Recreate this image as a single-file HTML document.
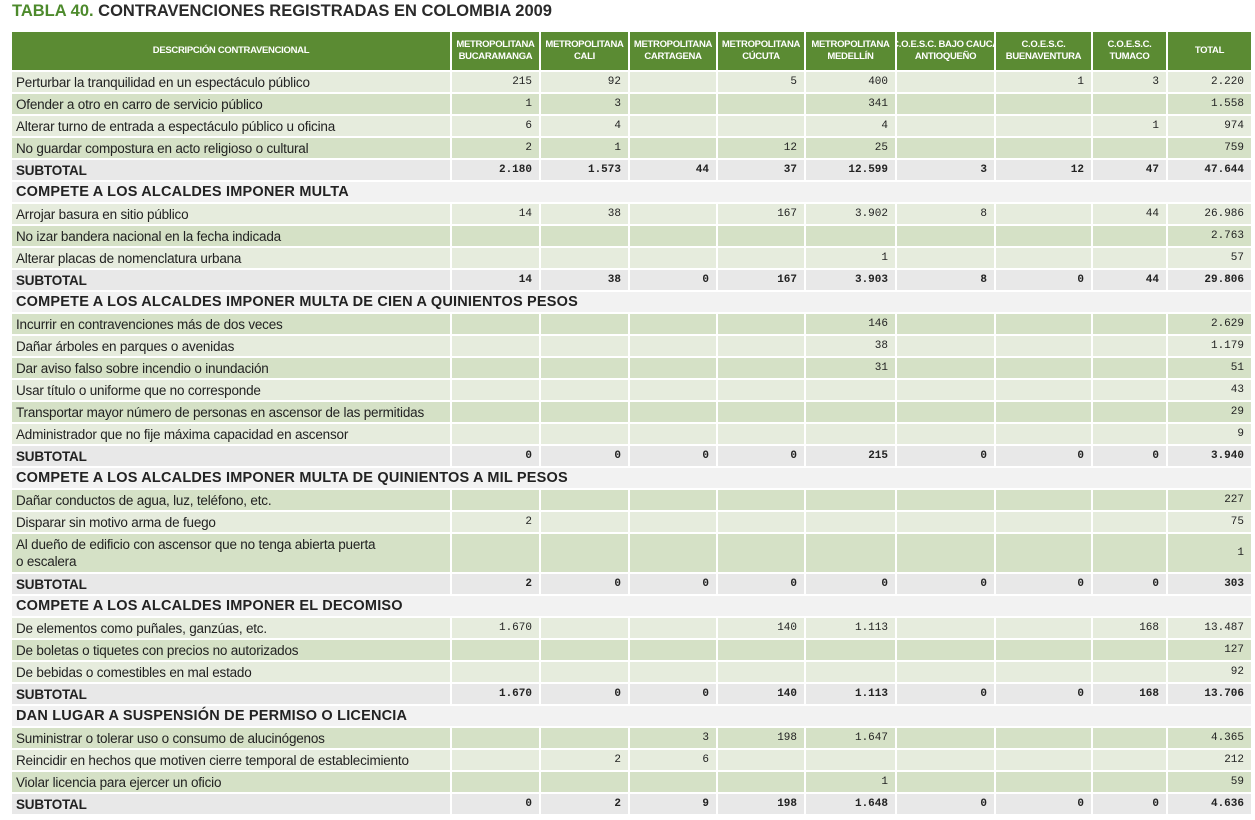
<!DOCTYPE html>
<html><head><meta charset="utf-8">
<style>
body{margin:0;width:1255px;height:820px;background:#fff;position:relative;overflow:hidden;font-family:"Liberation Sans",sans-serif;color:#222}
#title{position:absolute;left:12px;top:2px;font-size:16.5px;font-weight:bold;color:#2a2a2a;white-space:nowrap}
#title span{color:#4d8a2c}
.c{position:absolute;box-sizing:border-box;white-space:nowrap;overflow:hidden}
.h{background:#5b8b33;color:#fff;font-weight:bold;font-size:9.5px;display:flex;align-items:center;justify-content:center;text-align:center;line-height:12px;letter-spacing:-0.3px}
.d{font-size:13.5px;padding-left:4px;display:flex;align-items:center;letter-spacing:-0.2px}
.n{font-family:"Liberation Mono",monospace;font-size:11px;text-align:right;padding-right:7px;display:flex;align-items:center;justify-content:flex-end}
.L{background:#e6ecdd}.D{background:#d5e1c6}
.S{background:#e8e8e8;font-weight:bold}
.sec{background:#f2f2f2;font-weight:bold;font-size:14.5px;padding-left:4px;display:flex;align-items:center;letter-spacing:0.2px}
</style></head><body>
<div id="title"><span>TABLA 40.</span> CONTRAVENCIONES REGISTRADAS EN COLOMBIA 2009</div>
<div id="tbl"></div>
<script>
const colX=[12,452,541,630,718,806,897,996,1093,1168,1253];
const headers=["DESCRIPCIÓN CONTRAVENCIONAL","METROPOLITANA<br>BUCARAMANGA","METROPOLITANA<br>CALI","METROPOLITANA<br>CARTAGENA","METROPOLITANA<br>CÚCUTA","METROPOLITANA<br>MEDELLÍN","C.O.E.S.C. BAJO CAUCA<br>ANTIOQUEÑO","C.O.E.S.C.<br>BUENAVENTURA","C.O.E.S.C.<br>TUMACO","TOTAL"];
const rows=[
["r","Perturbar la tranquilidad en un espectáculo público",["215","92","","5","400","","1","3","2.220"]],
["r","Ofender a otro en carro de servicio público",["1","3","","","341","","","","1.558"]],
["r","Alterar turno de entrada a espectáculo público u oficina",["6","4","","","4","","","1","974"]],
["r","No guardar compostura en acto religioso o cultural",["2","1","","12","25","","","","759"]],
["s","SUBTOTAL",["2.180","1.573","44","37","12.599","3","12","47","47.644"]],
["h","COMPETE A LOS ALCALDES IMPONER MULTA"],
["r","Arrojar basura en sitio público",["14","38","","167","3.902","8","","44","26.986"]],
["r","No izar bandera nacional en la fecha indicada",["","","","","","","","","2.763"]],
["r","Alterar placas de nomenclatura urbana",["","","","","1","","","","57"]],
["s","SUBTOTAL",["14","38","0","167","3.903","8","0","44","29.806"]],
["h","COMPETE A LOS ALCALDES IMPONER MULTA DE CIEN A QUINIENTOS PESOS"],
["r","Incurrir en contravenciones más de dos veces",["","","","","146","","","","2.629"]],
["r","Dañar árboles en parques o avenidas",["","","","","38","","","","1.179"]],
["r","Dar aviso falso sobre incendio o inundación",["","","","","31","","","","51"]],
["r","Usar título o uniforme que no corresponde",["","","","","","","","","43"]],
["r","Transportar mayor número de personas en ascensor de las permitidas",["","","","","","","","","29"]],
["r","Administrador que no fije máxima capacidad en ascensor",["","","","","","","","","9"]],
["s","SUBTOTAL",["0","0","0","0","215","0","0","0","3.940"]],
["h","COMPETE A LOS ALCALDES IMPONER MULTA DE QUINIENTOS A MIL PESOS"],
["r","Dañar conductos de agua, luz, teléfono, etc.",["","","","","","","","","227"]],
["r","Disparar sin motivo arma de fuego",["2","","","","","","","","75"]],
["r","Al dueño de edificio con ascensor que no tenga abierta puerta<br>o escalera",["","","","","","","","","1"],40],
["s","SUBTOTAL",["2","0","0","0","0","0","0","0","303"]],
["h","COMPETE A LOS ALCALDES IMPONER EL DECOMISO"],
["r","De elementos como puñales, ganzúas, etc.",["1.670","","","140","1.113","","","168","13.487"]],
["r","De boletas o tiquetes con precios no autorizados",["","","","","","","","","127"]],
["r","De bebidas o comestibles en mal estado",["","","","","","","","","92"]],
["s","SUBTOTAL",["1.670","0","0","140","1.113","0","0","168","13.706"]],
["h","DAN LUGAR A SUSPENSIÓN DE PERMISO O LICENCIA"],
["r","Suministrar o tolerar uso o consumo de alucinógenos",["","","3","198","1.647","","","","4.365"]],
["r","Reincidir en hechos que motiven cierre temporal de establecimiento",["","2","6","","","","","","212"]],
["r","Violar licencia para ejercer un oficio",["","","","","1","","","","59"]],
["s","SUBTOTAL",["0","2","9","198","1.648","0","0","0","4.636"]]
];
const T=document.getElementById('tbl');
function cell(cls,x,y,w,h,html){
  const e=document.createElement('div');
  e.className='c '+cls;
  e.style.left=x+'px';e.style.top=y+'px';e.style.width=w+'px';e.style.height=h+'px';
  e.innerHTML=html;T.appendChild(e);return e;
}
for(let i=0;i<headers.length;i++){
  const e=cell('h',colX[i],32,colX[i+1]-colX[i]-2,38,headers[i]);
  
  
}
let y=72,alt=0;
rows.forEach((r,ri)=>{
  const h=r[3]||22;
  if(r[0]==='h'){
    const e=cell('sec',colX[0],y,colX[10]-colX[0]-2,h-2,r[1]);
    
    
  } else {
    const cls=r[0]==='s'?'S':(alt++%2===0?'L':'D');
    const d=cell('d '+cls,colX[0],y,colX[1]-colX[0]-2,h-2,r[1]);
    if(r[1].includes('<br>')){d.style.lineHeight='17px';}
    
    
    r[2].forEach((v,j)=>{
      const e=cell('n '+cls,colX[j+1],y,colX[j+2]-colX[j+1]-2,h-2,v);
      if(r[0]==='s'){e.style.fontWeight='bold';e.style.fontSize='11px';}
      
      
    });
  }
  y+=h;
});
</script>
</body></html>
